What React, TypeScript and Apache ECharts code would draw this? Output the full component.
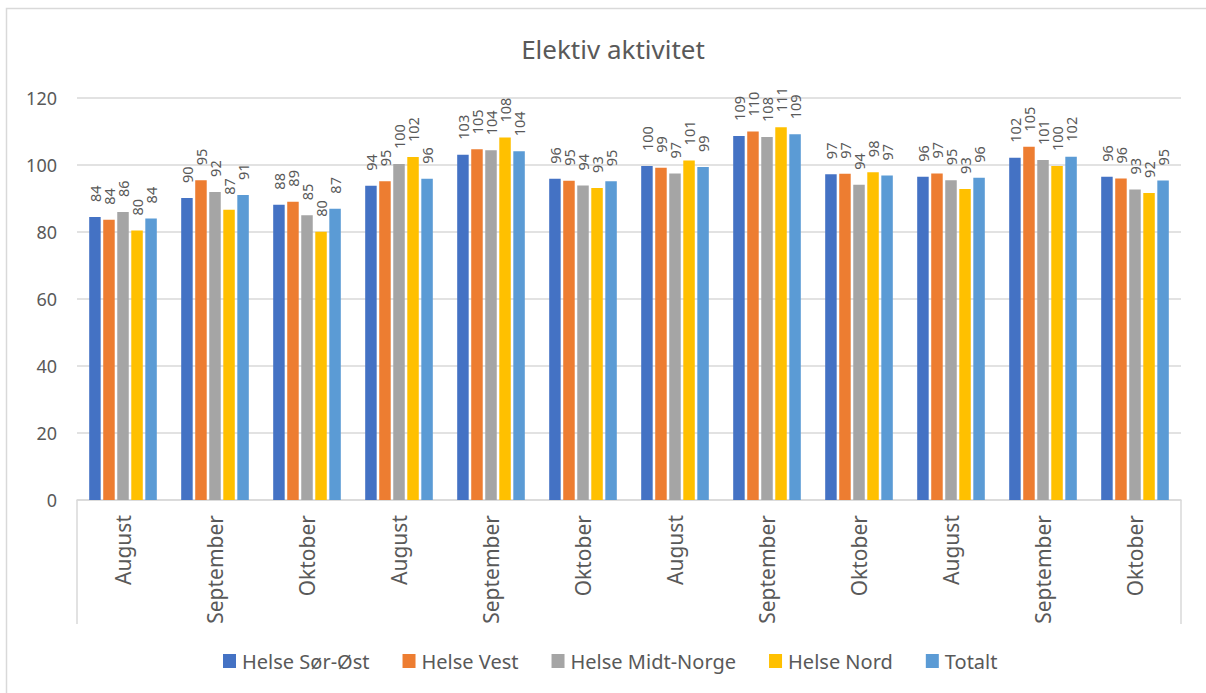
import React, { useEffect, useRef } from "react";
import * as echarts from "echarts";

const categories = [
  "August", "September", "Oktober",
  "August", "September", "Oktober",
  "August", "September", "Oktober",
  "August", "September", "Oktober",
];

const seriesNames = ["Helse Sør-Øst", "Helse Vest", "Helse Midt-Norge", "Helse Nord", "Totalt"];
const seriesColors = ["#4472C4", "#ED7D31", "#A5A5A5", "#FFC000", "#5B9BD5"];

const helseSorOst = [84.4, 90.1, 88.1, 93.7, 103.0, 95.8, 99.6, 108.6, 97.2, 96.4, 102.1, 96.4];
const helseVest = [83.6, 95.4, 89.0, 95.1, 104.6, 95.2, 99.1, 109.9, 97.3, 97.4, 105.4, 95.9];
const helseMidtNorge = [85.9, 91.9, 84.9, 100.2, 104.3, 93.8, 97.4, 108.3, 94.0, 95.4, 101.4, 92.6];
const helseNord = [80.4, 86.6, 80.0, 102.3, 108.1, 93.1, 101.3, 111.2, 97.8, 92.8, 99.6, 91.6];
const totalt = [84.0, 91.0, 86.9, 95.8, 104.0, 95.1, 99.3, 109.1, 96.8, 96.1, 102.4, 95.3];

const seriesValues = [helseSorOst, helseVest, helseMidtNorge, helseNord, totalt];

const yTicks = { min: 0, max: 120, interval: 20 };

const FONT = "'Noto Sans', 'Open Sans', sans-serif";
const TEXT = "#595959";
const GRID = "#D9D9D9";

export default function App() {
  const ref = useRef<HTMLDivElement>(null);

  useEffect(() => {
    if (!ref.current) return;
    const chart = echarts.init(ref.current, undefined, { renderer: "svg" });
    chart.setOption({
      animation: false,
      backgroundColor: "#ffffff",
      textStyle: { fontFamily: FONT },
      title: {
        text: "Elektiv aktivitet",
        left: 608,
        textAlign: "center",
        top: 31,
        textStyle: { fontFamily: FONT, fontSize: 26, fontWeight: "normal", color: TEXT },
      },
      legend: {
        left: 218,
        top: 646,
        itemWidth: 13,
        itemHeight: 14,
        itemGap: 33,
        icon: "rect",
        textStyle: { fontFamily: FONT, fontSize: 20, color: TEXT, padding: [0, 0, 0, 1] },
        data: seriesNames,
      },
      grid: { left: 77, right: 25, top: 97.7, bottom: 193 },
      graphic: [
        {
          type: "rect",
          shape: { x: 6.5, y: 8.5, width: 1400, height: 900 },
          style: { fill: "none", stroke: GRID, lineWidth: 1.5 },
          silent: true,
        },
      ],
      xAxis: [
        {
          type: "category",
          data: categories,
          axisLine: { show: true, lineStyle: { color: GRID, width: 1.5 } },
          axisTick: { show: false },
          axisLabel: {
            rotate: 90,
            margin: 15,
            interval: 0,
            fontFamily: FONT,
            fontSize: 21,
            color: TEXT,
          },
        },
        {
          type: "category",
          position: "bottom",
          data: [""],
          axisLine: { show: false },
          axisTick: { show: true, length: 124, lineStyle: { color: GRID, width: 1.5 } },
          axisLabel: { show: false },
        },
      ],
      yAxis: {
        type: "value",
        min: yTicks.min,
        max: yTicks.max,
        interval: yTicks.interval,
        axisLine: { show: false },
        axisTick: { show: false },
        axisLabel: { margin: 20, fontFamily: FONT, fontSize: 18, color: TEXT },
        splitLine: { lineStyle: { color: GRID, width: 1.5 } },
      },
      series: seriesNames.map((name, i) => ({
        name,
        type: "bar",
        xAxisIndex: 0,
        data: seriesValues[i],
        barWidth: 11.5,
        barGap: "22%",
        itemStyle: { color: seriesColors[i] },
        label: {
          show: true,
          position: "top",
          rotate: 90,
          align: "left",
          verticalAlign: "middle",
          distance: 15,
          fontFamily: FONT,
          fontSize: 14.5,
          color: TEXT,
          formatter: (p: any) => String(Math.round(p.value)),
        },
      })),
    });
    return () => chart.dispose();
  }, []);

  return (
    <div
      ref={ref}
      style={{ position: "absolute", left: 0, top: 0, width: 1206, height: 693 }}
    />
  );
}
